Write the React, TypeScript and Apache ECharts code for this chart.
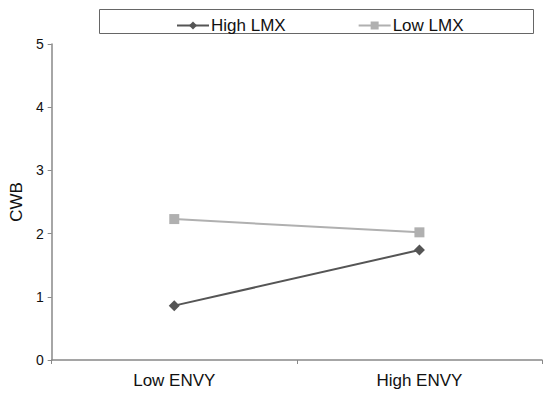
import React, { useEffect, useRef } from "react";
import * as echarts from "echarts";

const categories = ["Low ENVY", "High ENVY"];
const highLMX = [0.86, 1.74];
const lowLMX = [2.23, 2.02];
const yTicks = [0, 1, 2, 3, 4, 5];

export default function App() {
  const ref = useRef<HTMLDivElement>(null);
  useEffect(() => {
    const chart = echarts.init(ref.current!, null, { renderer: "svg" });
    const font = "Liberation Sans, Arial, sans-serif";
    chart.setOption({
      animation: false,
      grid: { left: 48, right: 8, top: 44, bottom: 37 },
      graphic: [
        {
          type: "rect",
          shape: { x: 99.5, y: 9.5, width: 434, height: 24 },
          style: { fill: "#fff", stroke: "#666", lineWidth: 1 },
          z: 0,
        },
      ],
      legend: {
        left: 171,
        top: 12,
        itemWidth: 32,
        itemHeight: 10,
        itemGap: 72,
        textStyle: { fontFamily: font, fontSize: 17, color: "#111", padding: [0, 0, 0, -3] },
        data: ["High LMX", "Low LMX"],
        z: 5,
      },
      xAxis: {
        type: "category",
        data: categories,
        boundaryGap: true,
        axisLine: { lineStyle: { color: "#888", width: 1.5 } },
        axisTick: { show: true, length: 4, lineStyle: { color: "#888" } },
        axisLabel: { fontFamily: font, fontSize: 17, color: "#111", margin: 12 },
      },
      yAxis: {
        type: "value",
        min: yTicks[0],
        max: yTicks[yTicks.length - 1],
        interval: 1,
        name: "CWB",
        nameLocation: "middle",
        nameGap: 24,
        nameTextStyle: { fontFamily: font, fontSize: 17, color: "#111" },
        splitLine: { show: false },
        axisLine: { show: true, lineStyle: { color: "#888", width: 1.5 } },
        axisTick: { show: true, length: 4, lineStyle: { color: "#888" } },
        axisLabel: { fontFamily: font, fontSize: 14, color: "#111", margin: 8 },
      },
      series: [
        {
          name: "High LMX",
          type: "line",
          data: highLMX,
          symbol: "diamond",
          symbolSize: 11,
          lineStyle: { color: "#555", width: 2 },
          itemStyle: { color: "#555" },
        },
        {
          name: "Low LMX",
          type: "line",
          data: lowLMX,
          symbol: "rect",
          symbolSize: 10,
          lineStyle: { color: "#b0b0b0", width: 2 },
          itemStyle: { color: "#b0b0b0" },
        },
      ],
    });
    return () => chart.dispose();
  }, []);
  return <div ref={ref} style={{ width: 550, height: 397, position: "absolute", left: 0, top: 0 }} />;
}
